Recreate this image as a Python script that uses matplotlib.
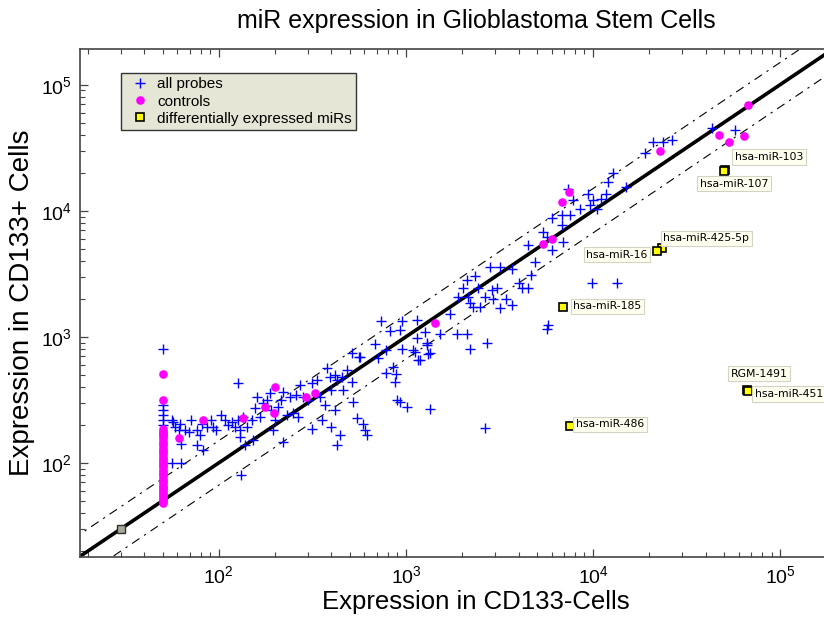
import matplotlib

matplotlib.use("Agg")
import matplotlib.pyplot as plt
import numpy as np

# all probes: expression in CD133- cells (x) and CD133+ cells (y)
probe_neg = [
    127, 56, 58, 62, 66, 71, 76, 79, 81, 86,
    91, 93, 97, 103, 108, 112, 117, 122, 127, 130,
    135, 141, 150, 156, 159, 166, 173, 180, 187, 191,
    199, 208, 216, 221, 230, 240, 250, 260, 265, 271,
    282, 301, 313, 333, 347, 369, 377, 393, 400, 417,
    426, 453, 462, 482, 512, 523, 545, 76, 82, 130,
    138, 153, 195, 221, 354, 400, 443, 426, 132, 56,
    63, 63, 50, 50, 50, 50, 50, 50, 61, 57,
    69,
    735, 948, 1150, 820, 929, 682, 568, 711, 787, 948,
    1090, 1140, 1290, 1190, 1320, 850, 783, 885, 874, 891,
    929, 1010, 1340, 592, 604, 617, 562, 512, 417, 313,
    1520, 1870, 2110, 2200, 2700, 1720, 1900, 2110, 2340, 2020,
    2150, 2200, 2440, 2290, 2490, 2640, 2870, 3050, 2810, 3180,
    2930, 3180, 3430, 3670, 3670, 4040, 4160, 4520, 4670, 4900,
    4520, 5420, 5650, 6010, 6930, 6010, 6790, 6790, 7530, 5770,
    5650, 1260, 1290, 1120, 1340, 1160,
    7380, 9440, 7850, 10000, 11100, 11800, 12100, 12800, 15100, 19000,
    21000, 23800, 26400, 43200, 57500, 8530, 9640, 10500, 9840, 13400,
    2640,
]
probe_pos = [
    431, 218, 193, 205, 182, 218, 182, 166, 205, 193,
    218, 193, 182, 239, 218, 199, 211, 193, 218, 182,
    232, 193, 218, 270, 334, 232, 296, 314, 355, 262,
    218, 278, 314, 366, 239, 334, 247, 344, 232, 413,
    334, 314, 427, 453, 334, 287, 561, 482, 378, 497,
    453, 482, 378, 543, 738, 305, 225, 138, 126, 161,
    138, 151, 182, 147, 218, 193, 166, 138, 80, 99,
    99, 142, 800, 287, 261, 239, 218, 199, 182, 211,
    176,
    1330, 1330, 1370, 1110, 1130, 869, 693, 673, 783, 807,
    783, 971, 859, 653, 728, 578, 518, 506, 440, 314,
    305, 275, 265, 205, 182, 166, 685, 440, 262, 187,
    1060, 1060, 1060, 807, 885, 1530, 2070, 2820, 3030, 2420,
    2070, 1840, 2420, 1730, 1730, 2070, 2340, 2420, 3600, 3600,
    2010, 1680, 2010, 1780, 3480, 2650, 2420, 2420, 3080, 3940,
    5350, 6810, 6220, 4880, 5680, 8690, 9240, 7690, 9240, 1240,
    1150, 1100, 885, 760, 738, 653,
    15000, 13700, 12200, 12200, 12500, 13700, 17000, 19800, 15500, 28500,
    35300, 35300, 36400, 45000, 43600, 10300, 11100, 10300, 2680, 2680,
    190,
]

# control probes
control_neg = [50] * 38 + [
    61, 82, 134, 176, 199, 198, 292, 326, 1430, 5420,
    6010, 6850, 7450, 22800, 46900, 53500, 63800, 67600,
]
control_pos = [
    48, 50, 52, 54, 56, 58, 60, 62, 64, 66,
    69, 72, 75, 78, 81, 84, 88, 92, 96, 100,
    104, 108, 112, 117, 122, 127, 132, 138, 144, 150,
    156, 162, 168, 174, 180, 186, 318, 506,
    158, 218, 228, 275, 401, 249, 334, 359, 1276, 5410,
    5920, 11800, 14200, 29800, 39900, 35300, 39200, 69000,
]

# differentially expressed miRs
mir_names = [
    "hsa-miR-103", "hsa-miR-107", "hsa-miR-425-5p", "hsa-miR-16",
    "hsa-miR-185", "hsa-miR-486", "RGM-1491", "hsa-miR-451",
]
mir_neg = [50500, 50000, 23300, 21900, 6930, 7530, 66400, 67000]
mir_pos = [21200, 20800, 5040, 4820, 1730, 197, 380, 372]

# unlabelled grey reference point
reference_neg = [30]
reference_pos = [30]

FOLD = 1.5

# label placement (offset in pixels, horizontal alignment)
LABEL_OFFSETS = {
    "hsa-miR-103": ((10, 12.5), "left"),
    "hsa-miR-107": ((10, -13), "center"),
    "hsa-miR-425-5p": ((1.5, 10), "left"),
    "hsa-miR-16": ((-9, -4), "right"),
    "hsa-miR-185": ((10, 0.5), "left"),
    "hsa-miR-486": ((6, 1.5), "left"),
    "RGM-1491": ((12, 16), "center"),
    "hsa-miR-451": ((7, -3), "left"),
}


def main() -> None:
    plt.rcParams["font.family"] = ["Liberation Sans", "DejaVu Sans"]
    plt.rcParams["mathtext.fontset"] = "custom"
    plt.rcParams["mathtext.rm"] = "Liberation Sans"

    fig = plt.figure(figsize=(8.24, 6.17), dpi=100)
    ax = fig.add_axes([80 / 824, 60 / 617, 792 / 824, 508 / 617])
    ax.set_xscale("log")
    ax.set_yscale("log")

    line_x = np.logspace(0, 7, 2)
    ax.plot(line_x, line_x, color="black", lw=2.6, zorder=2)
    dashdot = (0, (8, 5, 2, 5))
    ax.plot(line_x, line_x * FOLD, color="black", lw=0.8, ls=dashdot, zorder=2)
    ax.plot(line_x, line_x / FOLD, color="black", lw=0.8, ls=dashdot, zorder=2)

    ax.plot(probe_neg, probe_pos, ls="none", marker="+", ms=7.5, mew=1.0,
            color="#0000ff", label="all probes", zorder=3)
    ax.plot(control_neg, control_pos, ls="none", marker="o", ms=6.2, mew=0,
            color="#ff00ff", label="controls", zorder=4)
    ax.plot(mir_neg, mir_pos, ls="none", marker="s", ms=5.5, mew=1.2,
            mfc="#ffff00", mec="black", label="differentially expressed miRs", zorder=5)
    ax.plot(reference_neg, reference_pos, ls="none", marker="s", ms=5.5, mew=1.0,
            mfc="#a8a898", mec="#303030", zorder=5)

    for name, xv, yv in zip(mir_names, mir_neg, mir_pos):
        offset, ha = LABEL_OFFSETS[name]
        ax.annotate(name, (xv, yv), xytext=offset, textcoords="offset pixels",
                    ha=ha, va="center", fontsize=7.8, family="DejaVu Sans",
                    bbox=dict(boxstyle="square,pad=0.25", fc="#fffff0", ec="#d4d4c4", lw=0.8),
                    zorder=6)

    ax.set_xlim(18.1, 3.1e5)
    ax.set_ylim(17.9, 1.92e5)

    for spine in ax.spines.values():
        spine.set_color("#444444")
        spine.set_linewidth(1.2)
    ax.tick_params(which="both", direction="in", top=True, right=True, colors="#444444",
                   labelcolor="black", labelsize=14)
    ax.tick_params(which="major", length=6, width=0.9, pad=6)
    ax.tick_params(which="minor", length=3.5, width=0.8)

    ax.set_xlabel("Expression in CD133-Cells", fontsize=18.5, labelpad=2)
    ax.set_ylabel("Expression in CD133+ Cells", fontsize=20, labelpad=4)
    ax.set_title("miR expression in Glioblastoma Stem Cells", fontsize=18, pad=15)

    leg = ax.legend(loc="upper left", bbox_to_anchor=(0.052, 0.953), borderaxespad=0,
                    fontsize=11, numpoints=1, fancybox=False, framealpha=1,
                    facecolor="#e6e6d6", edgecolor="#333333", handlelength=1.9,
                    handletextpad=0.15, labelspacing=0.2, borderpad=0.3)
    leg.get_frame().set_linewidth(1.0)

    fig.savefig("out.png", dpi=100)
    plt.close(fig)


if __name__ == "__main__":
    main()
